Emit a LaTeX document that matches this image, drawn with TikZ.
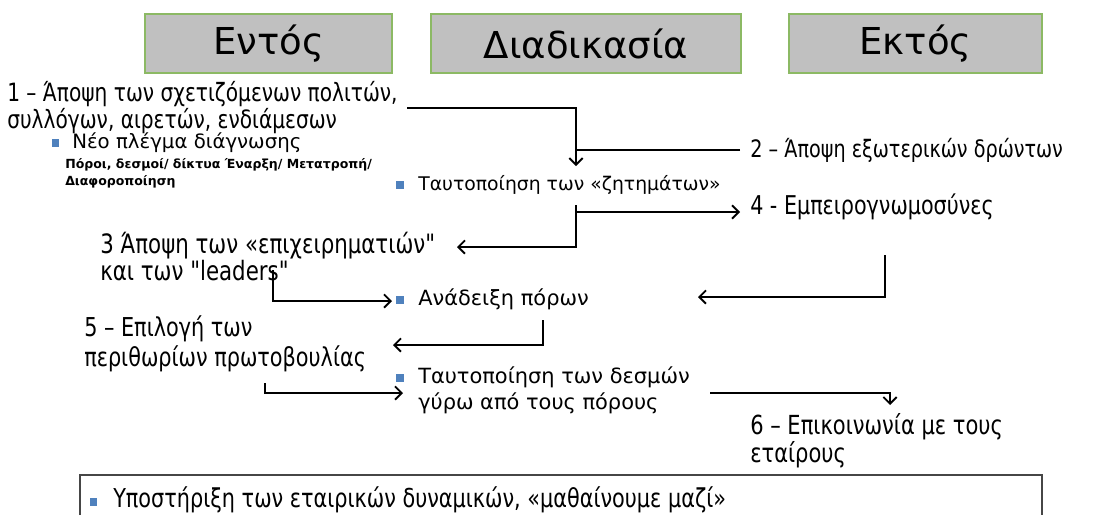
\documentclass[tikz,border=0pt]{standalone}
\usepackage{fontspec}
\setmainfont{DejaVu Sans}
\newfontfamily\cond[FakeStretch=0.8]{DejaVu Sans}
\usepackage{tikz}
\usetikzlibrary{arrows.meta,positioning}
\definecolor{headfill}{RGB}{192,192,192}
\definecolor{headedge}{RGB}{140,185,100}
\definecolor{bulletblue}{RGB}{79,129,189}
\definecolor{boxedge}{RGB}{70,70,70}
% bullet in front of an item
\newcommand{\blt}[1]{\llap{\textcolor{bulletblue}{\rule[1pt]{5.5pt}{5.5pt}}\hspace{#1}}}
\tikzset{
    %Define standard arrow tip
    >={Straight Barb[length=5pt,width=10pt,line width=1.4pt]},
    %Define style for header boxes
    head/.style={
           rectangle,
           draw=headedge, fill=headfill,
           line width=1.2pt,
           minimum height=44pt,
           inner sep=0pt,
           font=\fontsize{27.8}{32}\selectfont},
    numtext/.style={
           anchor=base west,
           inner sep=0pt,
           align=left,
           font=\cond\fontsize{18}{20}\selectfont},
    itemtext/.style={
           anchor=base west,
           inner sep=0pt,
           align=left,
           font=\fontsize{15.7}{19.5}\selectfont},
    % Define arrow style
    pil/.style={
           ->,
           line width=1.6pt},
    boxline/.style={
           draw=boxedge,
           line width=1.2pt}
}
\begin{document}
\begin{tikzpicture}[x=0.75pt,y=-0.75pt]
\useasboundingbox (0,0) rectangle (1097,515);
%headers
\node[head, minimum width=185pt] (entos) at (268.5,43.5) {Εντός};
\node[head, minimum width=232.5pt] (diadikasia) at (586,43.5) {Διαδικασία};
\node[head, minimum width=190pt] (ektos) at (915.5,43.5) {Εκτός};
%texts (multi-line texts sit on their last baseline)
\node[numtext, font=\cond\fontsize{18.9}{16.5}\selectfont] (apopsi1) at (7,128)
    {1 – Άποψη των σχετιζόμενων πολιτών,\\συλλόγων, αιρετών, ενδιάμεσων};
\node[itemtext, font=\fontsize{14.8}{15}\selectfont] (plegma) at (72,148)
    {\blt{10pt}Νέο πλέγμα διάγνωσης};
\node[itemtext, font=\bfseries\fontsize{9.4}{12.75}\selectfont] (poroi) at (65,185)
    {Πόροι, δεσμοί/ δίκτυα Έναρξη/ Μετατροπή/\\Διαφοροποίηση};
\node[itemtext, font=\fontsize{14.1}{18}\selectfont] (zitimata) at (418,190)
    {\blt{11pt}Ταυτοποίηση των «ζητημάτων»};
\node[numtext] (apopsi2) at (750,157) {2 – Άποψη εξωτερικών δρώντων};
\node[numtext, font=\cond\fontsize{19.4}{20}\selectfont] (empeir) at (750,214)
    {4 - Εμπειρογνωμοσύνες};
\node[numtext, font=\cond\fontsize{20}{20.25}\selectfont] (apopsi3) at (100,280)
    {3 Άποψη των «επιχειρηματιών"\\και των "leaders"};
\node[itemtext] (anadeixi) at (418,305) {\blt{11pt}Ανάδειξη πόρων};
\node[numtext, font=\cond\fontsize{19.5}{22}\selectfont] (epilogi) at (84,366)
    {5 – Επιλογή των\\περιθωρίων πρωτοβουλίας};
\node[itemtext] (desmoi) at (418,409)
    {\blt{11pt}Ταυτοποίηση των δεσμών\\γύρω από τους πόρους};
\node[numtext, font=\cond\fontsize{19.7}{21}\selectfont] (epikoin) at (750,462)
    {6 – Επικοινωνία με τους\\εταίρους};
\node[numtext, font=\cond\fontsize{19.5}{20}\selectfont] (ypostirixi) at (113,507)
    {\blt{12pt}Υποστήριξη των εταιρικών δυναμικών, «μαθαίνουμε μαζί»};
%bottom box
\draw[boxline] (80,515) -- (80,475) -- (1042,475) -- (1042,515);
%connector ends
\coordinate (a1) at (407,108);
\coordinate (a1e) at (576,166);
\coordinate (a2) at (740,150);
\coordinate (a2e) at (576,150);
\coordinate (a3) at (576,205);
\coordinate (a3e) at (457,247);
\coordinate (a4) at (576,212);
\coordinate (a4e) at (740,212);
\coordinate (a5) at (273,270);
\coordinate (a5e) at (392,301);
\coordinate (a6) at (885,255);
\coordinate (a6e) at (698,297);
\coordinate (a7) at (543,320);
\coordinate (a7e) at (393,345);
\coordinate (a8) at (265,383);
\coordinate (a8e) at (403,393);
\coordinate (a9) at (710,393);
\coordinate (a9e) at (890,405);
%arrows
\draw[pil] (a1) -| (a1e);
\draw[line width=1.6pt] (a2) -- (a2e);
\draw[pil] (a3) |- (a3e);
\draw[pil] (a4) -- (a4e);
\draw[pil] (a5) |- (a5e);
\draw[pil] (a6) |- (a6e);
\draw[pil] (a7) |- (a7e);
\draw[pil] (a8) |- (a8e);
\draw[pil] (a9) -| (a9e);
\end{tikzpicture}
\end{document}
